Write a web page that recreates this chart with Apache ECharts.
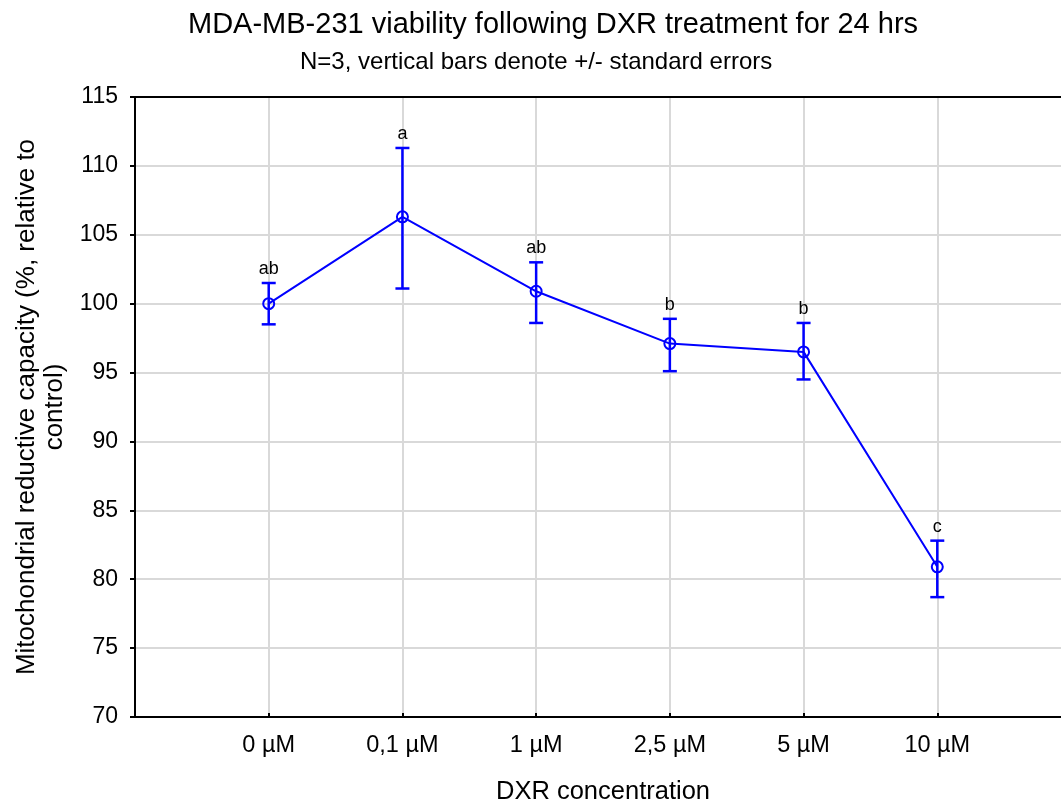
<!DOCTYPE html>
<html>
<head>
<meta charset="utf-8">
<script src="https://cdn.jsdelivr.net/npm/echarts@6/dist/echarts.min.js"></script>
<style>html,body{margin:0;padding:0;background:#fff;overflow:hidden}#c{width:1061px;height:802px}</style>
</head>
<body>
<div id="c"></div>
<script>
const categories = ['0 µM', '0,1 µM', '1 µM', '2,5 µM', '5 µM', '10 µM'];
const means = [100.0, 106.3, 100.9, 97.1, 96.5, 80.9];
const lowers = [98.5, 101.1, 98.6, 95.1, 94.5, 78.7];
const uppers = [101.5, 111.3, 103.0, 98.9, 98.6, 82.8];
const letters = ['ab', 'a', 'ab', 'b', 'b', 'c'];
const yTicks = {min: 70, max: 115, interval: 5};

const FONT = 'Liberation Sans';
const chart = echarts.init(document.getElementById('c'));

const lineData = means.map((v, i) => [i, v]);
const errData = means.map((v, i) => [i, lowers[i], uppers[i], letters[i]]);

chart.setOption({
  animation: false,
  textStyle: {fontFamily: FONT},
  title: [
    {text: 'MDA-MB-231 viability following DXR treatment for 24 hrs', left: 183, top: 5,
     textStyle: {fontFamily: FONT, fontSize: 29, fontWeight: 'normal', color: '#000'}},
    {text: 'N=3, vertical bars denote +/- standard errors', left: 295, top: 45,
     textStyle: {fontFamily: FONT, fontSize: 24, fontWeight: 'normal', color: '#000'}}
  ],
  grid: {left: 135, right: -10, top: 97, bottom: 85, outerBoundsMode: 'none', containLabel: false},
  xAxis: [{
    type: 'value', min: -1, max: 6, interval: 1,
    name: 'DXR concentration', nameLocation: 'middle', nameGap: 62,
    nameTextStyle: {fontFamily: FONT, fontSize: 25.5, color: '#000'},
    axisLine: {onZero: false, lineStyle: {color: '#000', width: 2}},
    axisTick: {inside: true, length: 4, lineStyle: {color: '#000', width: 2}},
    axisLabel: {fontFamily: FONT, fontSize: 23.5, color: '#000', margin: 17,
      formatter: v => categories[v] !== undefined ? categories[v] : ''},
    splitLine: {show: true, lineStyle: {color: '#d9d9d9', width: 2}}
  }, {
    type: 'value', position: 'top', min: -1, max: 6,
    axisLine: {show: true, onZero: false, lineStyle: {color: '#000', width: 2}},
    axisTick: {show: false}, axisLabel: {show: false}, splitLine: {show: false}
  }],
  yAxis: {
    type: 'value', min: yTicks.min, max: yTicks.max, interval: yTicks.interval,
    name: 'Mitochondrial reductive capacity (%, relative to\ncontrol)',
    nameLocation: 'middle', nameGap: 63, nameRotate: 90,
    nameTextStyle: {fontFamily: FONT, fontSize: 26, color: '#000', lineHeight: 28},
    axisLine: {show: true, onZero: false, lineStyle: {color: '#000', width: 2}},
    axisTick: {show: true, inside: false, length: 5, lineStyle: {color: '#000', width: 2}},
    axisLabel: {fontFamily: FONT, fontSize: 23, color: '#000', margin: 17},
    splitLine: {show: true, lineStyle: {color: '#d9d9d9', width: 2}}
  },
  series: [{
    type: 'custom',
    data: errData,
    z: 3,
    renderItem: function (params, api) {
      const x = api.value(0);
      const lo = api.coord([x, api.value(1)]);
      const hi = api.coord([x, api.value(2)]);
      const hw = 7;
      const st = {stroke: '#0000ff', lineWidth: 2.5};
      return {type: 'group', children: [
        {type: 'line', shape: {x1: lo[0], y1: lo[1], x2: hi[0], y2: hi[1]}, style: st},
        {type: 'line', shape: {x1: lo[0] - hw, y1: lo[1], x2: lo[0] + hw, y2: lo[1]}, style: st},
        {type: 'line', shape: {x1: hi[0] - hw, y1: hi[1], x2: hi[0] + hw, y2: hi[1]}, style: st},
        {type: 'text', x: hi[0], y: hi[1] - 5, style: {text: api.value(3), fontFamily: FONT, fontSize: 18,
          fill: '#000', align: 'center', verticalAlign: 'bottom'}}
      ]};
    }
  }, {
    type: 'line',
    data: lineData,
    z: 4,
    symbol: 'circle', symbolSize: 11,
    lineStyle: {color: '#0000ff', width: 2},
    itemStyle: {color: 'rgba(255,255,255,0)', borderColor: '#0000ff', borderWidth: 2}
  }]
});
</script>
</body>
</html>
